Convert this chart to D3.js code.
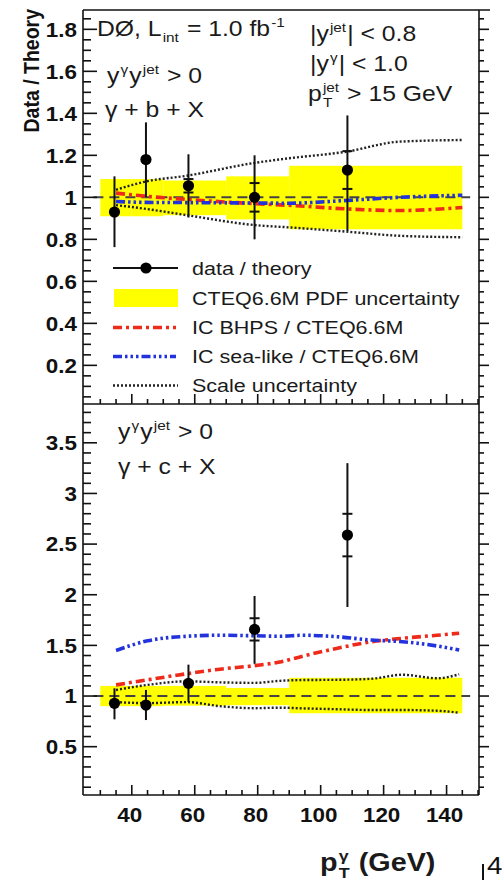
<!DOCTYPE html>
<html><head><meta charset="utf-8">
<script src="https://cdn.jsdelivr.net/npm/d3@7"></script>
<style>body{margin:0;background:#fff}svg{display:block}</style>
</head><body>
<svg id="c" width="502" height="884"></svg>
<script>
// ---------- data ----------
const xTickValues = [40, 60, 80, 100, 120, 140];
const topYTickValues = [0.2, 0.4, 0.6, 0.8, 1, 1.2, 1.4, 1.6, 1.8];
const topYTickLabels = ["0.2", "0.4", "0.6", "0.8", "1", "1.2", "1.4", "1.6", "1.8"];
const botYTickValues = [0.5, 1, 1.5, 2, 2.5, 3, 3.5];
const botYTickLabels = ["0.5", "1", "1.5", "2", "2.5", "3", "3.5"];

const ptCenters = [34.5, 44.5, 58, 79, 108.5];
const bRatio   = [0.93, 1.18, 1.055, 1.0, 1.13];
const bErrUp   = [0.17, 0.177, 0.15, 0.20, 0.26];
const bErrDn   = [0.167, 0.178, 0.151, 0.20, 0.29];
const bStat    = [null, null, 0.032, 0.068, 0.09];
const cRatio   = [0.928, 0.911, 1.125, 1.658, 2.589];
const cErrUp   = [0.148, 0.149, 0.185, 0.33, 0.71];
const cErrDn   = [0.158, 0.148, 0.181, 0.34, 0.71];
const cStat    = [null, null, null, 0.11, 0.21];

const pdfBinEdges = [30, 40, 50, 70, 90, 145];
const bPdfLo = [0.91, 0.91, 0.915, 0.895, 0.848];
const bPdfHi = [1.087, 1.087, 1.08, 1.10, 1.15];
const cPdfLo = [0.90, 0.90, 0.905, 0.91, 0.83];
const cPdfHi = [1.10, 1.10, 1.10, 1.08, 1.18];

const bCurvePt   = [35, 44, 57.5, 79, 90, 108, 125, 145];
const bScaleUp   = [1.036, 1.074, 1.103, 1.164, 1.186, 1.217, 1.265, 1.273];
const bScaleDn   = [0.963, 0.946, 0.915, 0.868, 0.857, 0.837, 0.817, 0.81];
const bBHPS      = [1.02, 1.006, 0.99, 0.97, 0.962, 0.945, 0.937, 0.952];
const bSeaLike   = [0.98, 0.976, 0.975, 0.973, 0.972, 0.985, 1.0, 1.01];

const cCurvePt   = [35, 45, 57.5, 68, 79, 87, 94.5, 105, 116, 126, 137, 144];
const cScaleUp   = [1.06, 1.11, 1.145, 1.135, 1.13, 1.15, 1.158, 1.16, 1.17, 1.21, 1.175, 1.215];
const cScaleDn   = [0.94, 0.93, 0.94, 0.90, 0.88, 0.885, 0.878, 0.87, 0.862, 0.862, 0.855, 0.835];
const cBHPS      = [1.11, 1.16, 1.22, 1.265, 1.30, 1.335, 1.395, 1.47, 1.535, 1.57, 1.60, 1.62];
const cSeaLike   = [1.45, 1.545, 1.59, 1.60, 1.595, 1.59, 1.60, 1.586, 1.553, 1.536, 1.494, 1.455];

const legendLabels = ["data / theory", "CTEQ6.6M PDF uncertainty", "IC BHPS / CTEQ6.6M", "IC sea-like / CTEQ6.6M", "Scale uncertainty"];

// ---------- layout ----------
const SX = 1.15;
const FONT = "'Liberation Sans', Arial, Helvetica, sans-serif";
const L = 83, R = 479, T1 = 10, B1 = 404, B2 = 795;
const svg = d3.select("#c");
const x = d3.scaleLinear().domain([24.5, 150.3]).range([L, R]);
const yTop = d3.scaleLinear().domain([0.016, 1.892]).range([B1, T1]);
const yBot = d3.scaleLinear().domain([0.023, 3.883]).range([B2, B1]);

const RED = "#ee2b1b", BLUE = "#2233dd", YEL = "#ffff00";
const redDash = "9,4,3,4", blueDash = "9,3,2.5,3,2.5,3,2.5,3", dotDash = "2,2";

function rich(g, px, py, parts, size, weight, sx) {
  const grp = g.append("g").attr("transform", `translate(${px},${py}) scale(${sx},1)`)
    .attr("font-family", FONT).attr("font-weight", weight || "normal").attr("fill", "#1a1a1a");
  let cx = 0;
  parts.forEach(p => {
    if (p.stack) {
      const s = size * 0.62;
      const a = grp.append("text").attr("x", cx + 1).attr("y", -size * 0.42).attr("font-size", s).text(p.sup);
      const b = grp.append("text").attr("x", cx + 1).attr("y", size * 0.28).attr("font-size", s).text(p.sub);
      cx += Math.max(a.node().getComputedTextLength(), b.node().getComputedTextLength()) + 2;
    } else if (p.sup) {
      const s = size * 0.62;
      const a = grp.append("text").attr("x", cx + 1).attr("y", -size * 0.42).attr("font-size", s).text(p.sup);
      cx += a.node().getComputedTextLength() + 2;
    } else if (p.sub) {
      const s = size * 0.62;
      const a = grp.append("text").attr("x", cx + 1).attr("y", size * 0.28).attr("font-size", s).text(p.sub);
      cx += a.node().getComputedTextLength() + 2;
    } else {
      const a = grp.append("text").attr("x", cx).attr("y", 0).attr("font-size", size).style("white-space", "pre").text(p.t);
      cx += a.node().getComputedTextLength();
    }
  });
  return grp;
}

function panel(yS, pdfLo, pdfHi, curvePt, scUp, scDn, bhps, sea, ratio, eUp, eDn, stat, yTicks, yLabels, majorStep, minorStep, yMin, yMax, top, bottom) {
  const g = svg.append("g");
  pdfLo.forEach((lo, i) => {
    g.append("rect").attr("x", x(pdfBinEdges[i])).attr("width", x(pdfBinEdges[i + 1]) - x(pdfBinEdges[i]))
      .attr("y", yS(pdfHi[i])).attr("height", yS(lo) - yS(pdfHi[i])).attr("fill", YEL);
  });
  const line = d3.line().x(d => x(d[0])).y(d => yS(d[1])).curve(d3.curveMonotoneX);
  const z = (a, b) => a.map((v, i) => [v, b[i]]);
  [scUp, scDn].forEach(s => g.append("path").attr("d", line(z(curvePt, s))).attr("fill", "none")
    .attr("stroke", "#222").attr("stroke-width", 2.4).attr("stroke-dasharray", dotDash));
  g.append("line").attr("x1", x(27.8)).attr("x2", x(147.5)).attr("y1", yS(1)).attr("y2", yS(1))
    .attr("stroke", "#444").attr("stroke-width", 2).attr("stroke-dasharray", "10,6");
  g.append("path").attr("d", line(z(curvePt, bhps))).attr("fill", "none").attr("stroke", RED)
    .attr("stroke-width", 3.6).attr("stroke-dasharray", redDash);
  g.append("path").attr("d", line(z(curvePt, sea))).attr("fill", "none").attr("stroke", BLUE)
    .attr("stroke-width", 3.6).attr("stroke-dasharray", blueDash);
  ratio.forEach((v, i) => {
    const cx = x(ptCenters[i]);
    g.append("line").attr("x1", cx).attr("x2", cx).attr("y1", yS(v + eUp[i])).attr("y2", yS(v - eDn[i]))
      .attr("stroke", "#111").attr("stroke-width", 2);
    if (stat[i] !== null) {
      [v + stat[i], v - stat[i]].forEach(s => g.append("line").attr("x1", cx - 5).attr("x2", cx + 5)
        .attr("y1", yS(s)).attr("y2", yS(s)).attr("stroke", "#111").attr("stroke-width", 2));
    }
    g.append("circle").attr("cx", cx).attr("cy", yS(v)).attr("r", 5.6).attr("fill", "#000");
  });
  const ax = svg.append("g").attr("stroke", "#111").attr("stroke-width", 1.6);
  ax.append("line").attr("x1", L).attr("x2", L).attr("y1", top).attr("y2", bottom);
  ax.append("line").attr("x1", R).attr("x2", R).attr("y1", top).attr("y2", bottom);
  ax.append("line").attr("x1", L).attr("x2", R).attr("y1", bottom).attr("y2", bottom);
  const minors = d3.range(Math.ceil(yMin / minorStep) * minorStep, yMax, minorStep);
  minors.forEach(v => {
    const isMajor = Math.abs(v / majorStep - Math.round(v / majorStep)) < 1e-6;
    const yy = yS(v);
    if (yy < top + 1 || yy > bottom - 1) return;
    ax.append("line").attr("x1", L).attr("x2", L + (isMajor ? 14 : 8)).attr("y1", yy).attr("y2", yy);
    ax.append("line").attr("x1", R).attr("x2", R + (isMajor ? 10 : 5)).attr("y1", yy).attr("y2", yy);
  });
  d3.range(30, 150.1, 5).forEach(v => {
    const isMajor = v % 20 === 0;
    ax.append("line").attr("x1", x(v)).attr("x2", x(v)).attr("y1", bottom).attr("y2", bottom - (isMajor ? 10 : 5));
  });
  yTicks.forEach((v, i) => {
    svg.append("text").attr("transform", `translate(77,${yS(v) + 7.3}) scale(${SX},1)`)
      .attr("text-anchor", "end").attr("font-family", FONT).attr("font-weight", "bold")
      .attr("font-size", 19.5).attr("fill", "#111").text(yLabels[i]);
  });
}

panel(yTop, bPdfLo, bPdfHi, bCurvePt, bScaleUp, bScaleDn, bBHPS, bSeaLike, bRatio, bErrUp, bErrDn, bStat,
  topYTickValues, topYTickLabels, 0.2, 0.05, 0.016, 1.892, T1, B1);
panel(yBot, cPdfLo, cPdfHi, cCurvePt, cScaleUp, cScaleDn, cBHPS, cSeaLike, cRatio, cErrUp, cErrDn, cStat,
  botYTickValues, botYTickLabels, 0.5, 0.1, 0.023, 3.883, B1, B2);

svg.append("line").attr("x1", L).attr("x2", 490).attr("y1", T1).attr("y2", T1).attr("stroke", "#111").attr("stroke-width", 1.6);

xTickValues.forEach(v => {
  svg.append("text").attr("transform", `translate(${x(v) - 2},822) scale(${SX},1)`).attr("text-anchor", "middle")
    .attr("font-family", FONT).attr("font-weight", "bold").attr("font-size", 19.5).attr("fill", "#111").text(v);
});

svg.append("text").attr("transform", `translate(39,9) scale(${SX},1) rotate(-90)`).attr("text-anchor", "end")
  .attr("font-family", FONT).attr("font-weight", "bold").attr("font-size", 19.5).attr("fill", "#111").text("Data / Theory");
rich(svg, 320, 871, [{t: "p"}, {stack: true, sup: "γ", sub: "T"}, {t: " (GeV)"}], 25, "bold", SX);

const AF = 21.5;
rich(svg, 97, 36, [{t: "DØ, L"}, {sub: "int"}, {t: " = 1.0 fb"}, {sup: "-1"}], AF, "normal", SX);
rich(svg, 107, 83, [{t: "y"}, {sup: "γ"}, {t: "y"}, {sup: "jet"}, {t: " > 0"}], AF, "normal", SX);
rich(svg, 105, 117, [{t: "γ + b + X"}], AF, "normal", SX);
rich(svg, 310, 41, [{t: "|y"}, {sup: "jet"}, {t: "| < 0.8"}], AF, "normal", SX);
rich(svg, 310, 71, [{t: "|y"}, {sup: "γ"}, {t: "| < 1.0"}], AF, "normal", SX);
rich(svg, 308, 101, [{t: "p"}, {stack: true, sup: "jet", sub: "T"}, {t: " > 15 GeV"}], AF, "normal", SX);
rich(svg, 118, 439, [{t: "y"}, {sup: "γ"}, {t: "y"}, {sup: "jet"}, {t: " > 0"}], AF, "normal", SX);
rich(svg, 118, 474, [{t: "γ + c + X"}], AF, "normal", SX);

const legY = [268, 298, 327.5, 356.5, 385.5];
const lg = svg.append("g");
lg.append("line").attr("x1", 113).attr("x2", 178).attr("y1", legY[0]).attr("y2", legY[0]).attr("stroke", "#111").attr("stroke-width", 2);
lg.append("circle").attr("cx", 146).attr("cy", legY[0]).attr("r", 5.6).attr("fill", "#000");
lg.append("rect").attr("x", 114).attr("y", legY[1] - 9).attr("width", 64).attr("height", 18).attr("fill", YEL);
lg.append("line").attr("x1", 113).attr("x2", 176).attr("y1", legY[2]).attr("y2", legY[2]).attr("stroke", RED).attr("stroke-width", 3.6).attr("stroke-dasharray", redDash);
lg.append("line").attr("x1", 113).attr("x2", 176).attr("y1", legY[3]).attr("y2", legY[3]).attr("stroke", BLUE).attr("stroke-width", 3.6).attr("stroke-dasharray", blueDash);
lg.append("line").attr("x1", 113).attr("x2", 178).attr("y1", legY[4]).attr("y2", legY[4]).attr("stroke", "#222").attr("stroke-width", 2.4).attr("stroke-dasharray", dotDash);
legendLabels.forEach((t, i) => {
  lg.append("text").attr("transform", `translate(192,${legY[i] + 6.5}) scale(${SX},1)`)
    .attr("font-family", FONT).attr("font-size", 18.7).attr("fill", "#1a1a1a").text(t);
});

svg.append("line").attr("x1", 483).attr("x2", 483).attr("y1", 864).attr("y2", 880).attr("stroke", "#111").attr("stroke-width", 2);
svg.append("text").attr("transform", `translate(487,874) scale(${SX},1)`).attr("font-family", FONT)
  .attr("font-size", 24).attr("fill", "#111").text("4");
</script>
</body></html>
